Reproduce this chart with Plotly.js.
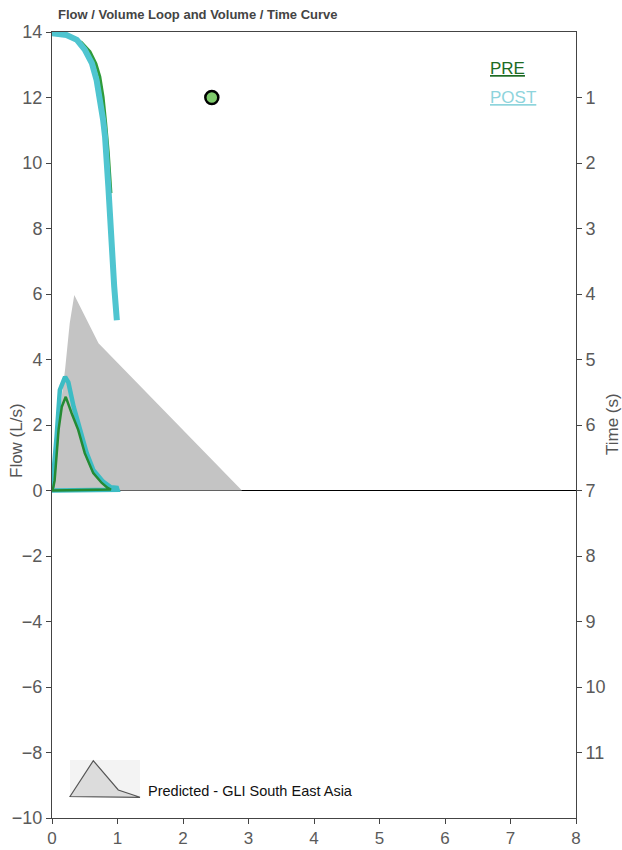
<!DOCTYPE html>
<html>
<head>
<meta charset="utf-8">
<script src="https://cdn.plot.ly/plotly-3.0.1.min.js"></script>
<style>html,body{margin:0;padding:0;background:#fff;}#chart{width:622px;height:850px;}</style>
</head>
<body>
<div id="chart"></div>
<script>
// Predicted flow-volume (GLI South East Asia)
const predVolume = [0, 0.05, 0.12, 0.2, 0.27, 0.34, 0.71, 2.9];
const predFlow   = [0, 1.0, 2.4, 3.7, 5.1, 5.97, 4.5, 0];

// PRE flow-volume loop
const preVolume = [0, 0.02, 0.04, 0.07, 0.1, 0.15, 0.21, 0.3, 0.4, 0.5, 0.63, 0.76, 0.85, 0.9, 0];
const preFlow   = [0, 0.1, 0.3, 1.2, 1.85, 2.56, 2.86, 2.36, 1.85, 1.14, 0.53, 0.23, 0.08, 0.03, 0];

// POST flow-volume loop
const postVolume = [0, 0.02, 0.07, 0.12, 0.2, 0.25, 0.33, 0.43, 0.53, 0.63, 0.78, 0.9, 0.99, 1.0, 0];
const postFlow   = [0, 0.6, 1.64, 3.07, 3.47, 3.3, 2.56, 1.85, 1.14, 0.63, 0.27, 0.1, 0.08, 0.02, 0];

// PRE volume-time curve
const preTime   = [0, 0.02, 0.06, 0.16, 0.30, 0.48, 0.68, 0.99, 1.39, 1.85, 2.46];
const preVolT   = [0, 0.02, 0.27, 0.45, 0.58, 0.67, 0.73, 0.78, 0.82, 0.86, 0.90];

// POST volume-time curve
const postTime  = [0, 0.02, 0.046, 0.12, 0.27, 0.48, 0.73, 0.99, 1.34, 1.60, 1.95, 2.36, 2.87, 3.38, 3.89, 4.40];
const postVolT  = [0, 0.02, 0.22, 0.38, 0.50, 0.61, 0.68, 0.73, 0.78, 0.81, 0.84, 0.86, 0.89, 0.91, 0.95, 0.99];

// Marker point
const markVolume = [2.44];
const markFlow   = [12.0];

const xTicks  = [0, 1, 2, 3, 4, 5, 6, 7, 8];
const yTicks  = [-10, -8, -6, -4, -2, 0, 2, 4, 6, 8, 10, 12, 14];
const y2Ticks = [1, 2, 3, 4, 5, 6, 7, 8, 9, 10, 11];

const FONT = '"Liberation Sans", Arial, sans-serif';
const GREEN = '#2f9b3a';
const CYAN = '#4fc5d0';

const traces = [
  {x: predVolume, y: predFlow, type: 'scatter', mode: 'lines', fill: 'toself',
   fillcolor: '#c4c4c4', line: {width: 0, color: '#c4c4c4'}, hoverinfo: 'skip'},
  {x: preVolT, y: preTime, yaxis: 'y2', type: 'scatter', mode: 'lines',
   line: {color: GREEN, width: 3}},
  {x: postVolT, y: postTime, yaxis: 'y2', type: 'scatter', mode: 'lines',
   line: {color: CYAN, width: 6}},
  {x: postVolume, y: postFlow, type: 'scatter', mode: 'lines',
   line: {color: '#3cbcc4', width: 4.5}},
  {x: preVolume, y: preFlow, type: 'scatter', mode: 'lines',
   line: {color: '#258a33', width: 2.5}},
  {x: markVolume, y: markFlow, type: 'scatter', mode: 'markers',
   marker: {size: 13, color: '#7fcb6c', line: {color: '#000', width: 2.5}}}
];

const axisCommon = {
  showgrid: false, showline: true, linecolor: '#444', linewidth: 1,
  ticks: 'outside', ticklen: 5, tickcolor: '#444',
  tickfont: {family: FONT, size: 18, color: '#5a5a5a'}
};

const layout = {
  width: 622, height: 850,
  margin: {l: 52, r: 46, t: 32, b: 32, pad: 0},
  paper_bgcolor: '#fff', plot_bgcolor: '#fff',
  showlegend: false,
  font: {family: FONT},
  xaxis: Object.assign({}, axisCommon, {range: [0, 8], tickvals: xTicks, mirror: true, zeroline: false,
    tickfont: {family: FONT, size: 17, color: '#5a5a5a'}}),
  yaxis: Object.assign({}, axisCommon, {range: [-10, 14], tickvals: yTicks, mirror: true,
    zeroline: true, zerolinecolor: '#000', zerolinewidth: 1.5}),
  yaxis2: Object.assign({}, axisCommon, {range: [12, 0], tickvals: y2Ticks, overlaying: 'y',
    side: 'right', zeroline: false}),
  shapes: [
    {type: 'rect', xref: 'paper', yref: 'paper', x0: 18/524, x1: 88/524, y0: 20/786, y1: 58/786,
     fillcolor: '#f3f3f3', line: {width: 0}, layer: 'above'},
    {type: 'path', xref: 'paper', yref: 'paper', layer: 'above',
     path: 'M ' + (18/524) + ' ' + (21.5/786) + ' L ' + (41.3/524) + ' ' + (57.3/786) +
           ' L ' + (66.3/524) + ' ' + (28/786) + ' L ' + (88/524) + ' ' + (20.7/786) + ' Z',
     fillcolor: '#dcdcdc', line: {color: '#555', width: 1.2}}
  ],
  annotations: [
    {text: 'Flow / Volume Loop and Volume / Time Curve', xref: 'paper', yref: 'paper',
     x: 4/524, y: 1, xanchor: 'left', yanchor: 'bottom', yshift: 8, showarrow: false,
     font: {family: FONT, size: 13, color: '#444', weight: 'bold'}},
    {text: '<u>PRE</u>', xref: 'paper', yref: 'paper', x: 436/524, y: (818-69)/786,
     xanchor: 'left', yanchor: 'middle', showarrow: false,
     font: {family: FONT, size: 17, color: '#1d6b24'}},
    {text: '<u>POST</u>', xref: 'paper', yref: 'paper', x: 436/524, y: (818-97)/786,
     xanchor: 'left', yanchor: 'middle', showarrow: false,
     font: {family: FONT, size: 17, color: '#8ed4dc'}},
    {text: 'Predicted - GLI South East Asia', xref: 'paper', yref: 'paper',
     x: 94/524, y: (818-791)/786, xanchor: 'left', yanchor: 'middle', showarrow: false,
     font: {family: FONT, size: 14.5, color: '#111'}},
    {text: 'Flow (L/s)', xref: 'paper', yref: 'paper', x: (17-52)/524, y: (818-441)/786,
     xanchor: 'center', yanchor: 'middle', textangle: -90, showarrow: false,
     font: {family: FONT, size: 17, color: '#555'}},
    {text: 'Time (s)', xref: 'paper', yref: 'paper', x: (612-52)/524, y: (818-424)/786,
     xanchor: 'center', yanchor: 'middle', textangle: -90, showarrow: false,
     font: {family: FONT, size: 17, color: '#555'}},
    {text: 'Volume (L)', xref: 'paper', yref: 'paper', x: (310-52)/524, y: 0,
     xanchor: 'center', yanchor: 'middle', yshift: -39, showarrow: false,
     font: {family: FONT, size: 17, color: '#555'}}
  ]
};

Plotly.newPlot('chart', traces, layout, {displayModeBar: false, staticPlot: true});
</script>
</body>
</html>
